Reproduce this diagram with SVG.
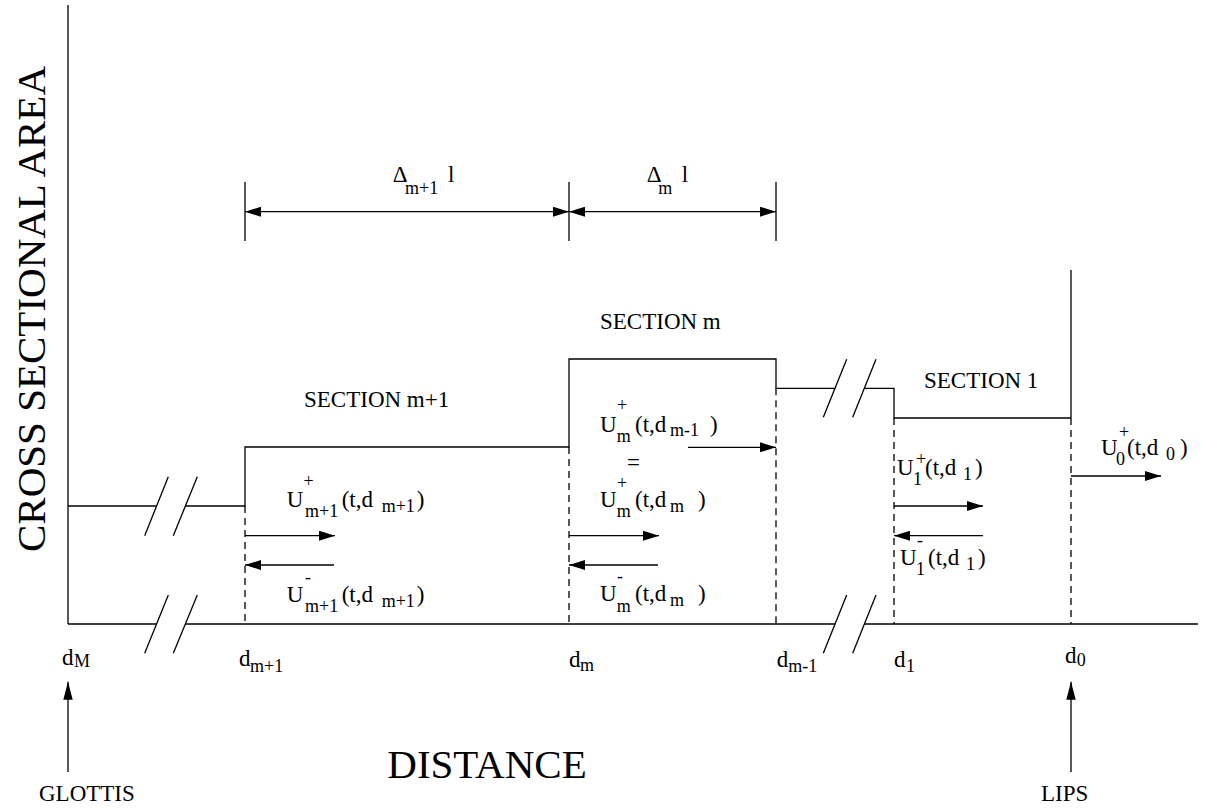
<svg xmlns="http://www.w3.org/2000/svg" width="1211" height="809" viewBox="0 0 1211 809">
<style>
.ln{stroke:#000;stroke-width:1.3;fill:none}
.ds{stroke:#000;stroke-width:1.3;fill:none;stroke-dasharray:7,5}
text{font-family:'Liberation Serif','Times New Roman',serif;fill:#000}
.t{font-size:23px}
.s{font-size:18px}
.b{font-size:41px}
</style>
<defs>
<marker id="ah" markerUnits="userSpaceOnUse" markerWidth="16" markerHeight="10" refX="16" refY="5" orient="auto-start-reverse">
<path d="M0,0 L16,5 L0,10 z" fill="#000"/>
</marker>
<marker id="ah2" markerUnits="userSpaceOnUse" markerWidth="18" markerHeight="10" refX="18" refY="5" orient="auto">
<path d="M0,0.3 L18,5 L0,9.7 z" fill="#000"/>
</marker>
</defs>
<rect width="1211" height="809" fill="#fff"/>

<g id="axes">
<line class="ln" x1="68" y1="5" x2="68" y2="624"/>
<line class="ln" x1="68" y1="624" x2="156.4" y2="624"/>
<line class="ln" x1="185.3" y1="624" x2="835.1" y2="624"/>
<line class="ln" x1="864.4" y1="624" x2="1198" y2="624"/>
<line class="ln" x1="144.7" y1="653.3" x2="168.3" y2="595"/>
<line class="ln" x1="173.3" y1="653.3" x2="197.3" y2="595"/>
<line class="ln" x1="823.3" y1="653.3" x2="846.7" y2="595"/>
<line class="ln" x1="852.7" y1="653.3" x2="876" y2="595"/>
<text class="b" transform="translate(45,309) rotate(-90)" text-anchor="middle">CROSS SECTIONAL AREA</text>
<text class="b" x="487" y="778" text-anchor="middle">DISTANCE</text>
</g>

<g id="profile">
<line class="ln" x1="68" y1="506" x2="156.6" y2="506"/>
<polyline class="ln" points="185.4,506 245,506 245,447 569,447 569,359 776,359 776,388.3 835,388.3"/>
<polyline class="ln" points="864.4,388.3 894,388.3 894,418 1071,418"/>
<line class="ln" x1="1071" y1="270" x2="1071" y2="418"/>
<line class="ln" x1="144.7" y1="535.7" x2="168.3" y2="476.7"/>
<line class="ln" x1="173.3" y1="535.7" x2="197.3" y2="476.7"/>
<line class="ln" x1="823.3" y1="417.3" x2="846.7" y2="359.3"/>
<line class="ln" x1="852.7" y1="417.3" x2="876" y2="359.3"/>
</g>

<g id="boundaries">
<line class="ds" x1="245" y1="506" x2="245" y2="624"/>
<line class="ds" x1="569" y1="447" x2="569" y2="624"/>
<line class="ds" x1="776" y1="388.3" x2="776" y2="624"/>
<line class="ds" x1="894" y1="418" x2="894" y2="624"/>
<line class="ds" x1="1071" y1="418" x2="1071" y2="624"/>
</g>

<g id="dimensions">
<line class="ln" x1="245" y1="182" x2="245" y2="241"/>
<line class="ln" x1="569" y1="182" x2="569" y2="241"/>
<line class="ln" x1="776" y1="182" x2="776" y2="241"/>
<line class="ln" x1="245" y1="211.7" x2="569" y2="211.7" marker-start="url(#ah)" marker-end="url(#ah)"/>
<line class="ln" x1="569" y1="211.7" x2="776" y2="211.7" marker-start="url(#ah)" marker-end="url(#ah)"/>
<text class="t" x="392.7" y="181.7">Δ</text><text class="s" x="405" y="194">m+1</text><text class="t" x="448" y="181.7">l</text>
<text class="t" x="646.7" y="181.7">Δ</text><text class="s" x="658.3" y="194">m</text><text class="t" x="681.7" y="181.7">l</text>
</g>

<g id="connectors">
<line class="ln" x1="245" y1="535.7" x2="335" y2="535.7" marker-end="url(#ah)"/>
<line class="ln" x1="334" y1="565" x2="245" y2="565" marker-end="url(#ah)"/>
<line class="ln" x1="688" y1="447.3" x2="776" y2="447.3" marker-end="url(#ah)"/>
<line class="ln" x1="569" y1="535.7" x2="659" y2="535.7" marker-end="url(#ah)"/>
<line class="ln" x1="658" y1="565" x2="569" y2="565" marker-end="url(#ah)"/>
<line class="ln" x1="894" y1="506" x2="983" y2="506" marker-end="url(#ah)"/>
<line class="ln" x1="983" y1="535.7" x2="894" y2="535.7" marker-end="url(#ah)"/>
<line class="ln" x1="1071" y1="476" x2="1161" y2="476" marker-end="url(#ah)"/>
<line class="ln" x1="68" y1="772" x2="68" y2="681.7" marker-end="url(#ah2)"/>
<line class="ln" x1="1071" y1="772" x2="1071" y2="681.7" marker-end="url(#ah2)"/>
</g>

<g id="section-m1">
<text class="t" x="304" y="407">SECTION m+1</text>
<text class="t" x="286.7" y="506.7">U</text><text class="s" x="303.5" y="487">+</text><text class="s" x="305" y="516.7">m+1</text><text class="t" x="341.7" y="506.7">(t,d</text><text class="s" x="381.7" y="511.7">m+1</text><text class="t" x="416.7" y="506.7">)</text>
<text class="t" x="286.7" y="601.7">U</text><text class="s" x="305" y="582.5">-</text><text class="s" x="305" y="611.7">m+1</text><text class="t" x="341.7" y="601.7">(t,d</text><text class="s" x="381.7" y="606.7">m+1</text><text class="t" x="416.7" y="601.7">)</text>
</g>

<g id="section-m">
<text class="t" x="600" y="329">SECTION m</text>
<text class="t" x="600" y="431.7">U</text><text class="s" x="617" y="411">+</text><text class="s" x="616.7" y="441.7">m</text><text class="t" x="635" y="431.7">(t,d</text><text class="s" x="670" y="436">m-1</text><text class="t" x="710" y="431.7">)</text>
<text class="t" x="627" y="470">=</text>
<text class="t" x="600" y="506.7">U</text><text class="s" x="617" y="489">+</text><text class="s" x="616.7" y="516.7">m</text><text class="t" x="635" y="506.7">(t,d</text><text class="s" x="670" y="511.7">m</text><text class="t" x="698" y="506.7">)</text>
<text class="t" x="600" y="601">U</text><text class="s" x="617" y="581.5">-</text><text class="s" x="616.7" y="611.7">m</text><text class="t" x="635" y="601">(t,d</text><text class="s" x="670" y="606">m</text><text class="t" x="698" y="601">)</text>
</g>

<g id="section-1">
<text class="t" x="924" y="388">SECTION 1</text>
<text class="t" x="897" y="475">U</text><text class="s" x="916" y="465">+</text><text class="s" x="913" y="485">1</text><text class="t" x="925" y="475">(t,d</text><text class="s" x="963" y="480">1</text><text class="t" x="975" y="475">)</text>
<text class="t" x="900" y="565">U</text><text class="s" x="917" y="546">-</text><text class="s" x="916" y="575">1</text><text class="t" x="928" y="565">(t,d</text><text class="s" x="966" y="570">1</text><text class="t" x="978" y="565">)</text>
</g>

<g id="lips-flow">
<text class="t" x="1101" y="455">U</text><text class="s" x="1119" y="437.5">+</text><text class="s" x="1116" y="465">0</text><text class="t" x="1127" y="455">(t,d</text><text class="s" x="1166" y="460">0</text><text class="t" x="1180" y="455">)</text>
</g>

<g id="positions">
<text class="t" x="62" y="665">d</text><text class="s" x="74" y="667">M</text>
<text class="t" x="239" y="666">d</text><text class="s" x="250" y="671.7">m+1</text>
<text class="t" x="569" y="666.7">d</text><text class="s" x="580" y="671">m</text>
<text class="t" x="776.7" y="666.7">d</text><text class="s" x="788.3" y="671.7">m-1</text>
<text class="t" x="894" y="666.7">d</text><text class="s" x="906" y="671.7">1</text>
<text class="t" x="1065" y="662.7">d</text><text class="s" x="1076.7" y="665.5">0</text>
</g>

<g id="glottis">
<text class="t" x="39" y="800.7">GLOTTIS</text>
</g>
<g id="lips">
<text class="t" x="1041" y="800.7">LIPS</text>
</g>
</svg>
